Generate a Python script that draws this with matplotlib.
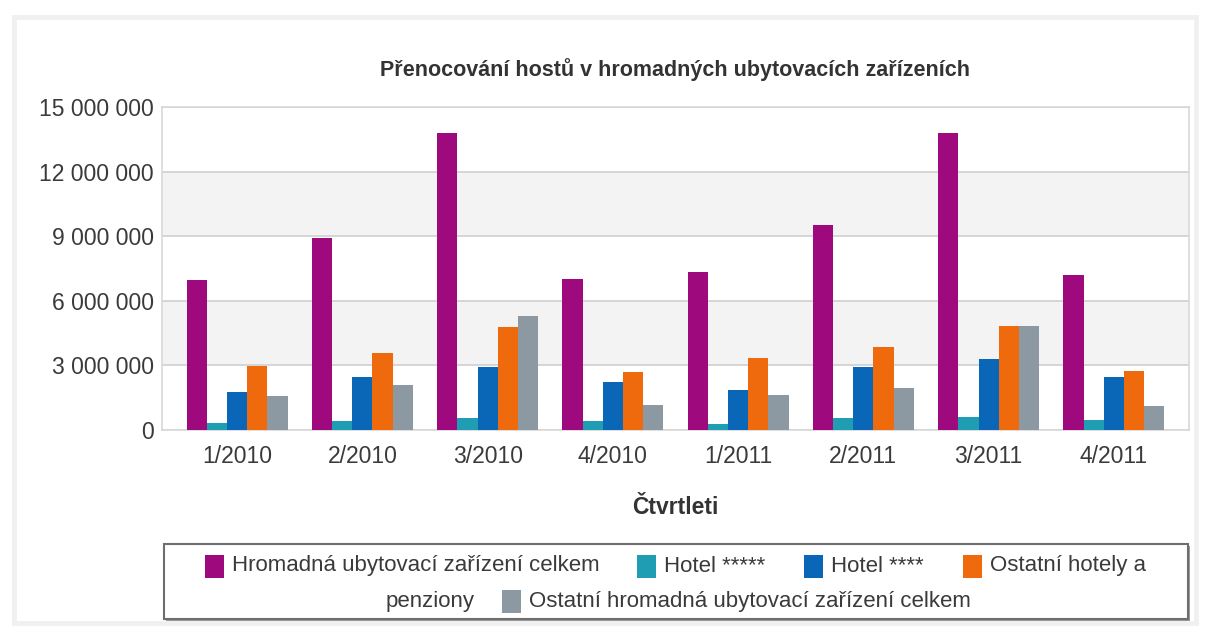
import matplotlib
matplotlib.use("Agg")
import matplotlib.pyplot as plt
from matplotlib.patches import Rectangle
from matplotlib.ticker import FuncFormatter, MultipleLocator
import numpy as np

W, H = 1205, 628

categories = ["1/2010", "2/2010", "3/2010", "4/2010", "1/2011", "2/2011", "3/2011", "4/2011"]
series_names = [
    "Hromadná ubytovací zařízení celkem",
    "Hotel *****",
    "Hotel ****",
    "Ostatní hotely a penziony",
    "Ostatní hromadná ubytovací zařízení celkem",
]
hua_celkem = [6950000, 8910000, 13810000, 6990000, 7360000, 9500000, 13810000, 7210000]
hotel5 = [310000, 430000, 560000, 430000, 280000, 540000, 620000, 480000]
hotel4 = [1750000, 2450000, 2910000, 2250000, 1860000, 2910000, 3300000, 2450000]
ostatni_hotely = [2990000, 3580000, 4780000, 2710000, 3330000, 3840000, 4850000, 2760000]
ostatni_hua = [1600000, 2080000, 5290000, 1180000, 1630000, 1940000, 4820000, 1100000]
series = [hua_celkem, hotel5, hotel4, ostatni_hotely, ostatni_hua]
colors = ["#9e0a7e", "#1f9db3", "#0a66b7", "#ef6a0c", "#8c99a3"]

FONT = ["Liberation Sans Narrow", "Liberation Sans", "DejaVu Sans"]
plt.rcParams["font.family"] = FONT
TXT = "#3a3a3a"

fig = plt.figure(figsize=(W / 100, H / 100), dpi=100)
fig.patch.set_facecolor("white")

def fx(x):
    return x / W

def fy(y):
    return 1 - y / H

# outer container frame
fig.add_artist(Rectangle((fx(14), fy(623)), fx(1196) - fx(14), fy(17) - fy(623),
                         transform=fig.transFigure, fill=False,
                         edgecolor="#f0f0f0", linewidth=3.5, zorder=0))

left, right, top, bottom = 162, 1189, 107, 430
ax = fig.add_axes([fx(left), fy(bottom), fx(right) - fx(left), fy(top) - fy(bottom)])

x = np.arange(len(categories))
bw = 0.161
n = len(series)
for i, (vals, c) in enumerate(zip(series, colors)):
    ax.bar(x + (i - (n - 1) / 2) * bw, vals, width=bw, color=c, zorder=3, linewidth=0)

ax.set_xlim(-0.6, len(categories) - 1 + 0.6)
ax.set_ylim(0, 15000000)
ax.yaxis.set_major_locator(MultipleLocator(3000000))
ax.yaxis.set_major_formatter(FuncFormatter(lambda v, p: f"{int(v):,}".replace(",", " ")))
ax.set_xticks(x)
ax.set_xticklabels(categories)

# alternating bands
for lo in [3000000, 9000000]:
    ax.axhspan(lo, lo + 3000000, color="#f3f3f3", zorder=0, linewidth=0)
ax.grid(axis="y", color="#d0d0d0", linewidth=1.2, zorder=1)
ax.set_axisbelow(True)
for s in ax.spines.values():
    s.set_color("#d8d8d8")
    s.set_linewidth(1.2)
ax.tick_params(axis="both", length=0, labelsize=16.5, labelcolor=TXT)
ax.tick_params(axis="y", pad=6)
ax.tick_params(axis="x", pad=11)

fig.text(fx((left + right) / 2), fy(70), "Přenocování hostů v hromadných ubytovacích zařízeních",
         ha="center", va="center", fontsize=15.5, fontweight="bold", color="#333333")
fig.text(fx((left + right) / 2), fy(507), "Čtvrtleti",
         ha="center", va="center", fontsize=16.5, fontweight="bold", color="#333333")

# legend box (manual, to reproduce wrapped layout)
lx0, ly0, lx1, ly1 = 164, 544, 1188, 619
fig.add_artist(Rectangle((fx(lx0 + 2), fy(ly1 + 2)), fx(lx1) - fx(lx0), fy(ly0) - fy(ly1),
                         transform=fig.transFigure, facecolor="#9a9a9a", edgecolor="none", zorder=4))
fig.add_artist(Rectangle((fx(lx0), fy(ly1)), fx(lx1) - fx(lx0), fy(ly0) - fy(ly1),
                         transform=fig.transFigure, facecolor="white", edgecolor="#6e6e6e",
                         linewidth=1.5, zorder=5))

legend_items = [
    # (square left x, row y, color index, text)
    (205, 566, 0, series_names[0]),
    (637, 566, 1, series_names[1]),
    (804, 566, 2, series_names[2]),
    (963, 566, 3, "Ostatní hotely a"),
    (502, 601, 4, series_names[4]),
]
sq_w, sq_h = 19, 23
for sx, sy, ci, label in legend_items:
    fig.add_artist(Rectangle((fx(sx), fy(sy + sq_h / 2)), fx(sq_w), sq_h / H,
                             transform=fig.transFigure, facecolor=colors[ci],
                             edgecolor="none", zorder=6))
    fig.text(fx(sx + sq_w + 8), fy(sy), label, ha="left", va="center",
             fontsize=16, color=TXT, zorder=7)
fig.text(fx(386), fy(601), "penziony", ha="left", va="center", fontsize=16, color=TXT, zorder=7)

fig.savefig("out.png", dpi=100, facecolor="white")
